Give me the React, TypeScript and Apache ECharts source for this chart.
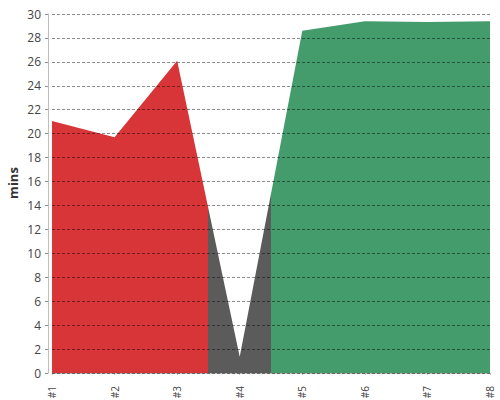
import React, { useEffect, useRef } from "react";
import * as echarts from "echarts";

const categories = ["#1", "#2", "#3", "#4", "#5", "#6", "#7", "#8"];
const minutes = [21.05, 19.7, 26.1, 1.35, 28.6, 29.4, 29.33, 29.4];
const yTicks = { min: 0, max: 30, interval: 2 };
const axisName = "mins";
// colour bands along the x axis (category index boundaries)
const bandEdges = [2.5, 3.5];
const bandColors = ["#d73537", "#5b5b5b", "#449b6b"];

export default function App() {
  const ref = useRef<HTMLDivElement>(null);
  useEffect(() => {
    document.body.style.margin = "0";
    document.body.style.overflow = "hidden";
    const chart = echarts.init(ref.current!, null, { renderer: "svg" });
    const span = categories.length - 1;
    const stops: { offset: number; color: string }[] = [{ offset: 0, color: bandColors[0] }];
    bandEdges.forEach((e, i) => {
      stops.push({ offset: e / span, color: bandColors[i] });
      stops.push({ offset: e / span, color: bandColors[i + 1] });
    });
    stops.push({ offset: 1, color: bandColors[bandColors.length - 1] });
    chart.setOption({
      animation: false,
      textStyle: { fontFamily: "Open Sans" },
      grid: { left: 52, right: 10, top: 14, bottom: 27, outerBoundsMode: "none", containLabel: false },
      graphic: [
        {
          type: "text",
          x: 13,
          y: 183,
          rotation: Math.PI / 2,
          style: {
            text: axisName,
            align: "center",
            verticalAlign: "middle",
            font: "bold 13px 'Open Sans'",
            fill: "#333",
          },
        },
      ],
      xAxis: {
        type: "category",
        data: categories,
        boundaryGap: false,
        offset: 5,
        axisLine: { lineStyle: { color: "#bdbdbd" } },
        axisTick: { length: 2, alignWithLabel: true, lineStyle: { color: "#bdbdbd" } },
        axisLabel: { rotate: 90, color: "#444", fontSize: 10, margin: 8, overflow: "none" },
        splitLine: { show: false },
      },
      yAxis: {
        type: "value",
        ...yTicks,
        z: 5,
        offset: 4,
        axisLine: { show: true, lineStyle: { color: "#bdbdbd" } },
        axisTick: { show: true, length: 5, lineStyle: { type: [3, 2], color: "rgba(0,0,0,0.45)" } },
        axisLabel: { color: "#444", fontSize: 12, margin: 7 },
        splitLine: { lineStyle: { type: [3, 2], color: "rgba(0,0,0,0.45)" } },
      },
      series: [
        {
          type: "line",
          data: minutes,
          symbol: "none",
          lineStyle: { width: 0 },
          areaStyle: { opacity: 1, color: new echarts.graphic.LinearGradient(0, 0, 1, 0, stops) },
        },
      ],
    });
    return () => chart.dispose();
  }, []);
  return <div ref={ref} style={{ width: 500, height: 400 }} />;
}
